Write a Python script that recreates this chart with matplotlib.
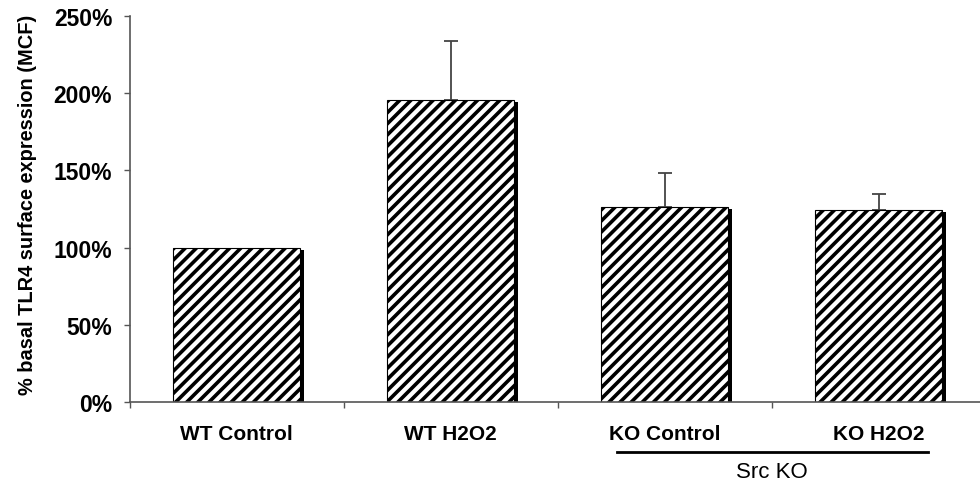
import matplotlib
matplotlib.use("Agg")
import matplotlib.pyplot as plt
import matplotlib.patheffects as pe
import numpy as np

# group means (% of basal TLR4 MCF) and upper SEM
groups = ["WT Control", "WT H2O2", "KO Control", "KO H2O2"]
means = [100, 195.5, 126, 124.5]
errs = [0, 38, 22, 10]
yticks = [0, 50, 100, 150, 200, 250]

plt.rcParams["font.family"] = ["Liberation Sans", "DejaVu Sans"]
plt.rcParams["hatch.linewidth"] = 2.6
plt.rcParams["hatch.color"] = "black"

fig = plt.figure(figsize=(9.8, 4.85), dpi=100)
ax = fig.add_axes([129.5 / 980, 82 / 485, 856 / 980, 386 / 485])

x = np.arange(len(groups)) + 0.5
shadow = [pe.SimplePatchShadow(offset=(2.9, -1.4), shadow_rgbFace="black", alpha=1.0), pe.Normal()]
bars = ax.bar(x, means, width=0.59, color="white", edgecolor="black",
              linewidth=0.8, hatch="///", zorder=2)
for b in bars:
    b.set_path_effects(shadow)

# only the upper half of the error bar is drawn; the baseline group has none
m = np.array(errs) > 0
ax.errorbar(x[m], np.array(means)[m], yerr=[np.zeros(m.sum()), np.array(errs)[m]],
            fmt="none", ecolor="#444444", elinewidth=1.3, capsize=4.7, capthick=1.3, zorder=1)

ax.set_xlim(0, 4)
ax.set_ylim(0, 250)
ax.set_yticks(yticks)
ax.set_yticklabels([f"{v}%" for v in yticks], fontsize=16.5, fontweight="bold")
ax.set_xticks(range(5))
ax.set_xticklabels([])
ax.set_xticks(x, minor=True)
ax.set_xticklabels(groups, minor=True, fontsize=15, fontweight="bold")
ax.tick_params(axis="x", which="minor", length=0, pad=16)
ax.tick_params(axis="x", which="major", length=4.5, width=1, color="#555555", direction="out")
ax.tick_params(axis="y", length=4.5, width=1, color="#555555", direction="out", pad=8)

for s in ["top", "right"]:
    ax.spines[s].set_visible(False)
for s in ["left", "bottom"]:
    ax.spines[s].set_color("#555555")
    ax.spines[s].set_linewidth(1.2)

ax.set_ylabel("% basal TLR4 surface expression (MCF)", fontsize=14.4, fontweight="bold")
ax.yaxis.set_label_coords(-0.108, 0.513)

# bracket under the knockout groups
tr = ax.get_xaxis_transform()
ax.plot([2.28, 3.73], [-0.129, -0.129], color="black", linewidth=2, transform=tr, clip_on=False)
ax.text(3, -0.152, "Src KO", fontsize=16, ha="center", va="top", transform=tr)

fig.savefig("out.png", dpi=100)
